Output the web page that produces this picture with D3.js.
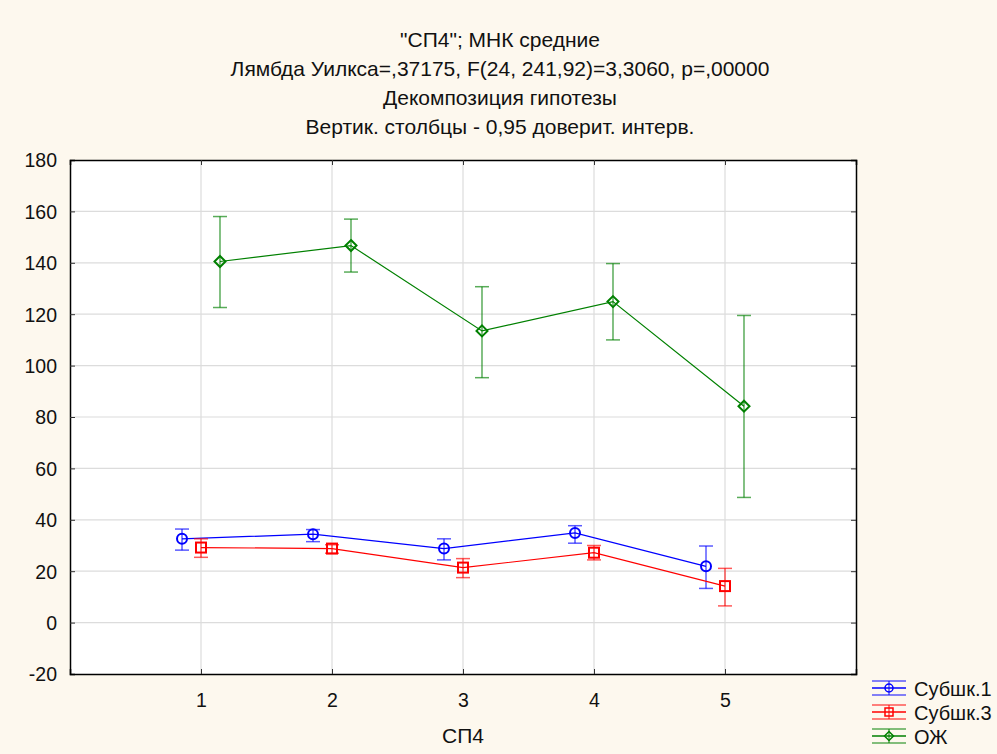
<!DOCTYPE html>
<html>
<head>
<meta charset="utf-8">
<script src="https://cdn.jsdelivr.net/npm/d3@7"></script>
<style>
  body { margin: 0; background: #fdf8ee; }
  svg { display: block; font-family: "Liberation Sans", Arial, sans-serif; }
</style>
</head>
<body>
<script>
// data
const categories = [1, 2, 3, 4, 5]
const yTicks = [-20, 0, 20, 40, 60, 80, 100, 120, 140, 160, 180]
const titleLines = [
  '"СП4"; МНК средние',
  "Лямбда Уилкса=,37175, F(24, 241,92)=3,3060, p=,00000",
  "Декомпозиция гипотезы",
  "Вертик. столбцы - 0,95 доверит. интерв."
]
const seriesNames = ["Субшк.1", "Субшк.3", "ОЖ"]
const seriesColors = ["#0000ff", "#ff0000", "#008000"]
const seriesShapes = ["circle", "square", "diamond"]
const seriesOffsets = [-0.145, 0, 0.145]

const sub1Mean = [32.6, 34.4, 28.8, 34.9, 21.9]
const sub1Low = [28.2, 31.5, 24.4, 30.9, 13.3]
const sub1High = [36.4, 36.2, 32.6, 37.7, 29.8]

const sub3Mean = [29.2, 28.8, 21.4, 27.2, 14.2]
const sub3Low = [25.4, 27.0, 17.5, 24.4, 6.5]
const sub3High = [32.6, 30.3, 24.9, 30.0, 21.1]

const ozhMean = [140.5, 146.7, 113.5, 124.9, 84.2]
const ozhLow = [122.6, 136.4, 95.3, 110.0, 48.7]
const ozhHigh = [158.0, 157.0, 130.7, 139.7, 119.5]

const means = [sub1Mean, sub3Mean, ozhMean]
const lows = [sub1Low, sub3Low, ozhLow]
const highs = [sub1High, sub3High, ozhHigh]

const width = 997
const height = 754
const margin = { left: 70, right: 141, top: 160, bottom: 80 }

let svg = d3.select("body").append("svg")
  .attr("width", width)
  .attr("height", height)

let x = d3.scaleLinear().domain([0, 6]).range([margin.left, width - margin.right])
let y = d3.scaleLinear().domain([-20, 180]).range([height - margin.bottom, margin.top])

// plot background
svg.append("rect")
  .attr("x", x(0)).attr("y", y(180))
  .attr("width", x(6) - x(0)).attr("height", y(-20) - y(180))
  .attr("fill", "#fff")

// grid
svg.append("g").selectAll("line")
  .data(yTicks.slice(1, -1)).enter()
  .append("line")
    .attr("x1", x(0)).attr("x2", x(6))
    .attr("y1", d => y(d)).attr("y2", d => y(d))
    .attr("stroke", "#dcdcdc").attr("stroke-width", 1.2)
svg.append("g").selectAll("line")
  .data(categories).enter()
  .append("line")
    .attr("x1", d => x(d)).attr("x2", d => x(d))
    .attr("y1", y(-20)).attr("y2", y(180))
    .attr("stroke", "#dcdcdc").attr("stroke-width", 1.2)

// axes (ticks inward)
let yAxis = d3.axisLeft(y).tickValues(yTicks).tickSize(-5).tickPadding(13).tickFormat(d => String(d))
let gy = svg.append("g").attr("transform", `translate(${x(0)},0)`).call(yAxis)
let yAxisR = d3.axisRight(y).tickValues(yTicks).tickSize(-5).tickFormat("")
let gyr = svg.append("g").attr("transform", `translate(${x(6)},0)`).call(yAxisR)
let xAxis = d3.axisBottom(x).tickValues(categories).tickSize(-5).tickPadding(19).tickFormat(d => String(d))
let gx = svg.append("g").attr("transform", `translate(0,${y(-20)})`).call(xAxis)
let xAxisT = d3.axisTop(x).tickValues(categories).tickSize(-5).tickFormat("")
let gxt = svg.append("g").attr("transform", `translate(0,${y(180)})`).call(xAxisT)

for (let g of [gy, gyr, gx, gxt]) {
  g.select(".domain").attr("stroke", "#000").attr("stroke-width", 1.5)
  g.selectAll(".tick line").attr("stroke", "#333")
  g.selectAll(".tick text").attr("fill", "#111").style("font-size", "19.5px")
    .style("font-family", '"Liberation Sans", Arial, sans-serif')
}
gy.selectAll(".tick text").attr("dy", "0.35em")
gx.selectAll(".tick text").attr("dy", "0.71em")

// titles
svg.append("g").selectAll("text")
  .data(titleLines).enter()
  .append("text")
    .attr("x", 500)
    .attr("y", (d, i) => 47 + i * 29)
    .attr("text-anchor", "middle")
    .style("font-size", "21px")
    .attr("fill", "#111")
    .text(d => d)

svg.append("text")
  .attr("x", x(3)).attr("y", 742.5)
  .attr("text-anchor", "middle")
  .style("font-size", "21px")
  .attr("fill", "#111")
  .text("СП4")

function drawMarker(g, shape, cx, cy, color) {
  if (shape === "circle") {
    g.append("circle").attr("cx", cx).attr("cy", cy).attr("r", 5)
      .attr("fill", "none").attr("stroke", color).attr("stroke-width", 2)
  } else if (shape === "square") {
    g.append("rect").attr("x", cx - 5).attr("y", cy - 5).attr("width", 10).attr("height", 10)
      .attr("fill", "none").attr("stroke", color).attr("stroke-width", 2)
  } else {
    g.append("path").attr("d", `M${cx},${cy - 5.5}L${cx + 5.5},${cy}L${cx},${cy + 5.5}L${cx - 5.5},${cy}Z`)
      .attr("fill", "none").attr("stroke", color).attr("stroke-width", 2)
  }
}

// series
seriesNames.forEach((name, s) => {
  let color = seriesColors[s]
  let g = svg.append("g")
  let pts = categories.map((c, i) => [x(c + seriesOffsets[s]), y(means[s][i])])

  // error bars
  categories.forEach((c, i) => {
    let cx = x(c + seriesOffsets[s])
    g.append("line").attr("x1", cx).attr("x2", cx)
      .attr("y1", y(lows[s][i])).attr("y2", y(highs[s][i]))
      .attr("stroke", color).attr("stroke-opacity", 0.65).attr("stroke-width", 1.5)
    for (let v of [lows[s][i], highs[s][i]]) {
      g.append("line").attr("x1", cx - 7).attr("x2", cx + 7)
        .attr("y1", y(v)).attr("y2", y(v))
        .attr("stroke", color).attr("stroke-opacity", 0.65).attr("stroke-width", 1.5)
    }
  })

  g.append("path")
    .attr("d", d3.line()(pts))
    .attr("fill", "none").attr("stroke", color).attr("stroke-width", 1.2)

  pts.forEach(p => drawMarker(g, seriesShapes[s], p[0], p[1], color))
})

// legend
let legend = svg.append("g")
seriesNames.forEach((name, s) => {
  let color = seriesColors[s]
  let ly = 688 + s * 24
  let lx1 = 872, lx2 = 906, lc = 889
  for (let dy of [-7, 0, 7]) {
    legend.append("line").attr("x1", lx1).attr("x2", lx2)
      .attr("y1", ly + dy).attr("y2", ly + dy)
      .attr("stroke", color).attr("stroke-opacity", dy === 0 ? 1 : 0.65).attr("stroke-width", 1.5)
  }
  legend.append("line").attr("x1", lc).attr("x2", lc)
    .attr("y1", ly - 7).attr("y2", ly + 7)
    .attr("stroke", color).attr("stroke-opacity", 0.65).attr("stroke-width", 1.5)
  let mg = legend.append("g")
  if (seriesShapes[s] === "circle") {
    mg.append("circle").attr("cx", lc).attr("cy", ly).attr("r", 4)
      .attr("fill", "none").attr("stroke", color).attr("stroke-width", 1.5)
  } else if (seriesShapes[s] === "square") {
    mg.append("rect").attr("x", lc - 4).attr("y", ly - 4).attr("width", 8).attr("height", 8)
      .attr("fill", "none").attr("stroke", color).attr("stroke-width", 1.5)
  } else {
    mg.append("path").attr("d", `M${lc},${ly - 4.5}L${lc + 4.5},${ly}L${lc},${ly + 4.5}L${lc - 4.5},${ly}Z`)
      .attr("fill", "none").attr("stroke", color).attr("stroke-width", 1.5)
  }
  legend.append("text")
    .attr("x", 914).attr("y", ly + 7.5)
    .style("font-size", "20px")
    .attr("fill", "#111")
    .text(name)
})
</script>
</body>
</html>
